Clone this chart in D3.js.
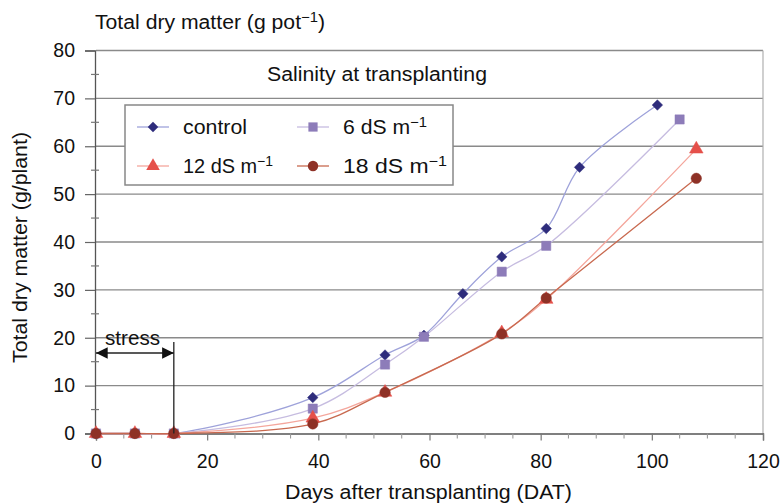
<!DOCTYPE html>
<html>
<head>
<meta charset="utf-8">
<script src="https://cdn.jsdelivr.net/npm/d3@7"></script>
<style>
  html, body { margin: 0; padding: 0; background: #fff; }
  svg { display: block; font-family: "Liberation Sans", Arial, sans-serif; }
</style>
</head>
<body>
<svg id="chart" width="780" height="504"></svg>
<script>
// ---- data ----
const xTicks = [0, 20, 40, 60, 80, 100, 120];
const yTicks = [0, 10, 20, 30, 40, 50, 60, 70, 80];

const controlDays = [0, 7, 14, 39, 52, 59, 66, 73, 81, 87, 101];
const controlVals = [0, 0, 0, 7.5, 16.4, 20.5, 29.2, 36.9, 42.8, 55.6, 68.6];

const s6Days = [0, 7, 14, 39, 52, 59, 73, 81, 105];
const s6Vals = [0, 0, 0, 5.2, 14.4, 20.2, 33.8, 39.2, 65.6];

const s12Days = [0, 7, 14, 39, 52, 73, 81, 108];
const s12Vals = [0, 0, 0, 3.2, 8.6, 21.0, 28.0, 59.4];

const s18Days = [0, 7, 14, 39, 52, 73, 81, 108];
const s18Vals = [0, 0, 0, 2.0, 8.6, 20.8, 28.3, 53.3];

// name parts: [base text, superscript]
const seriesNames = [["control", ""], ["6 dS m", "\u22121"], ["12 dS m", "\u22121"], ["18 dS m", "\u22121"]];
const stressEnd = 14;

// ---- setup ----
const FONT = "'Liberation Sans', Arial, sans-serif";
const svg = d3.select("#chart");
const x = d3.scaleLinear().domain([0, 120]).range([96, 763]);
const y = d3.scaleLinear().domain([0, 80]).range([433.5, 50.5]);

const diamond = { draw(ctx, size) { const r = Math.sqrt(size) / Math.SQRT2 * 1.0; ctx.moveTo(0, -r); ctx.lineTo(r, 0); ctx.lineTo(0, r); ctx.lineTo(-r, 0); ctx.closePath(); } };

const series = [
  { name: seriesNames[0], days: controlDays, vals: controlVals, line: "#9ea2da", fill: "#2e2c7c", sym: diamond, size: 55 },
  { name: seriesNames[1], days: s6Days, vals: s6Vals, line: "#c6bce0", fill: "#8d7cb9", sym: d3.symbolSquare, size: 85 },
  { name: seriesNames[2], days: s12Days, vals: s12Vals, line: "#f4a69c", fill: "#e5504a", sym: d3.symbolTriangle, size: 80 },
  { name: seriesNames[3], days: s18Days, vals: s18Vals, line: "#c8694f", fill: "#8e3126", sym: d3.symbolCircle, size: 85 }
];

function supText(sel, base, sup, after) {
  sel.append("tspan").text(base);
  if (sup) sel.append("tspan").attr("font-size", 14).attr("dy", -7).text(sup);
  if (after) sel.append("tspan").attr("dy", 7).text(after);
}

// gridlines
svg.append("g").selectAll("line").data(yTicks.filter(v => v > 0)).join("line")
  .attr("x1", x(0)).attr("x2", x(120))
  .attr("y1", d => y(d)).attr("y2", d => y(d))
  .attr("stroke", "#8a8a8a").attr("stroke-width", 1.4);

// right border
svg.append("line").attr("x1", x(120)).attr("x2", x(120)).attr("y1", y(0)).attr("y2", y(80))
  .attr("stroke", "#b0b0b0").attr("stroke-width", 1.2);

// y axis
const yAxis = svg.append("g").attr("transform", `translate(${x(0) - 1},0)`)
  .call(d3.axisLeft(y).tickValues(yTicks).tickSize(10).tickPadding(10).tickFormat(d3.format("d")));
yAxis.select(".domain").attr("stroke", "#555").attr("stroke-width", 1.3);
yAxis.selectAll(".tick line").attr("stroke", "#666").attr("stroke-width", 1.2);
yAxis.selectAll(".tick text").attr("font-size", 19.5).attr("fill", "#111").attr("font-family", FONT);
// y minor ticks
svg.append("g").selectAll("line").data(d3.range(5, 80, 10)).join("line")
  .attr("x1", x(0) - 5).attr("x2", x(0) + 3)
  .attr("y1", d => y(d)).attr("y2", d => y(d))
  .attr("stroke", "#777").attr("stroke-width", 1.2);

// x axis
const xAxis = svg.append("g").attr("transform", `translate(0,${y(0)})`)
  .call(d3.axisBottom(x).tickValues(xTicks).tickSize(7).tickPadding(14).tickFormat(d3.format("d")));
xAxis.select(".domain").attr("stroke", "#555").attr("stroke-width", 1.3);
xAxis.selectAll(".tick line").attr("stroke", "#777").attr("stroke-width", 1.2);
xAxis.selectAll(".tick text").attr("font-size", 19.5).attr("fill", "#111").attr("font-family", FONT)
  .attr("dy", null).attr("y", 34.5);
// x minor ticks
svg.append("g").selectAll("line").data(d3.range(5, 120, 5).filter(v => v % 20 !== 0)).join("line")
  .attr("x1", d => x(d)).attr("x2", d => x(d))
  .attr("y1", y(0)).attr("y2", y(0) + 5)
  .attr("stroke", "#999").attr("stroke-width", 1.1);

// lines
const lineGen = d3.line().curve(d3.curveCatmullRom.alpha(0.5))
  .x(d => x(d[0])).y(d => y(d[1]));
series.forEach(s => {
  svg.append("path")
    .datum(s.days.map((d, i) => [d, s.vals[i]]))
    .attr("d", lineGen)
    .attr("fill", "none").attr("stroke", s.line).attr("stroke-width", 1.3);
});
// markers
series.forEach(s => {
  svg.append("g").selectAll("path").data(s.days.map((d, i) => [d, s.vals[i]])).join("path")
    .attr("transform", d => `translate(${x(d[0])},${y(d[1])})`)
    .attr("d", d3.symbol().type(s.sym).size(s.size))
    .attr("fill", s.fill).attr("stroke", s.fill).attr("stroke-opacity", 0.5).attr("stroke-width", 1);
});

// stress annotation
svg.append("line").attr("x1", x(stressEnd)).attr("x2", x(stressEnd))
  .attr("y1", 342).attr("y2", y(0))
  .attr("stroke", "#222").attr("stroke-width", 1.3);
svg.append("defs").html(
  `<marker id="ah" viewBox="0 0 10 10" refX="10" refY="5" markerWidth="9" markerHeight="9" orient="auto-start-reverse">
     <path d="M0,0 L10,5 L0,10 z" fill="#111"/></marker>`);
svg.append("line").attr("x1", x(0)).attr("x2", x(stressEnd))
  .attr("y1", 353).attr("y2", 353)
  .attr("stroke", "#222").attr("stroke-width", 1.3)
  .attr("marker-start", "url(#ah)").attr("marker-end", "url(#ah)");
svg.append("text").attr("x", 105).attr("y", 345).attr("font-size", 20).attr("fill", "#111")
  .attr("textLength", 55).attr("lengthAdjust", "spacingAndGlyphs").text("stress");

// legend
const lg = svg.append("g");
lg.append("rect").attr("x", 125).attr("y", 105).attr("width", 328).attr("height", 80)
  .attr("fill", "#fff").attr("stroke", "#888").attr("stroke-width", 1.5);
const legPos = [[153, 127], [313, 127], [153, 166], [313, 166]];
const legLen = [64, 84, 90, 104];
series.forEach((s, i) => {
  const [cx, cy] = legPos[i];
  lg.append("line").attr("x1", cx - 16).attr("x2", cx + 16).attr("y1", cy).attr("y2", cy)
    .attr("stroke", s.line).attr("stroke-width", 1.3);
  lg.append("path").attr("transform", `translate(${cx},${cy})`)
    .attr("d", d3.symbol().type(s.sym).size(s.size)).attr("fill", s.fill);
  const t = lg.append("text").attr("x", cx + 30).attr("y", cy + 7).attr("font-size", 20).attr("fill", "#111")
    .attr("textLength", legLen[i]).attr("lengthAdjust", "spacingAndGlyphs");
  supText(t, s.name[0], s.name[1]);
});

// titles
svg.append("text").attr("x", 267).attr("y", 81)
  .attr("font-size", 20).attr("fill", "#111")
  .attr("textLength", 220).attr("lengthAdjust", "spacingAndGlyphs").text("Salinity at transplanting");
const tt = svg.append("text").attr("x", 95).attr("y", 29)
  .attr("font-size", 20).attr("fill", "#111")
  .attr("textLength", 230).attr("lengthAdjust", "spacingAndGlyphs");
supText(tt, "Total dry matter (g pot", "\u22121", ")");
svg.append("text").attr("x", 285).attr("y", 499)
  .attr("font-size", 20).attr("fill", "#111")
  .attr("textLength", 287).attr("lengthAdjust", "spacingAndGlyphs").text("Days after transplanting (DAT)");
svg.append("text").attr("transform", "translate(27,363) rotate(-90)")
  .attr("font-size", 20).attr("fill", "#111")
  .attr("textLength", 231).attr("lengthAdjust", "spacingAndGlyphs").text("Total dry matter (g/plant)");
</script>
</body>
</html>
